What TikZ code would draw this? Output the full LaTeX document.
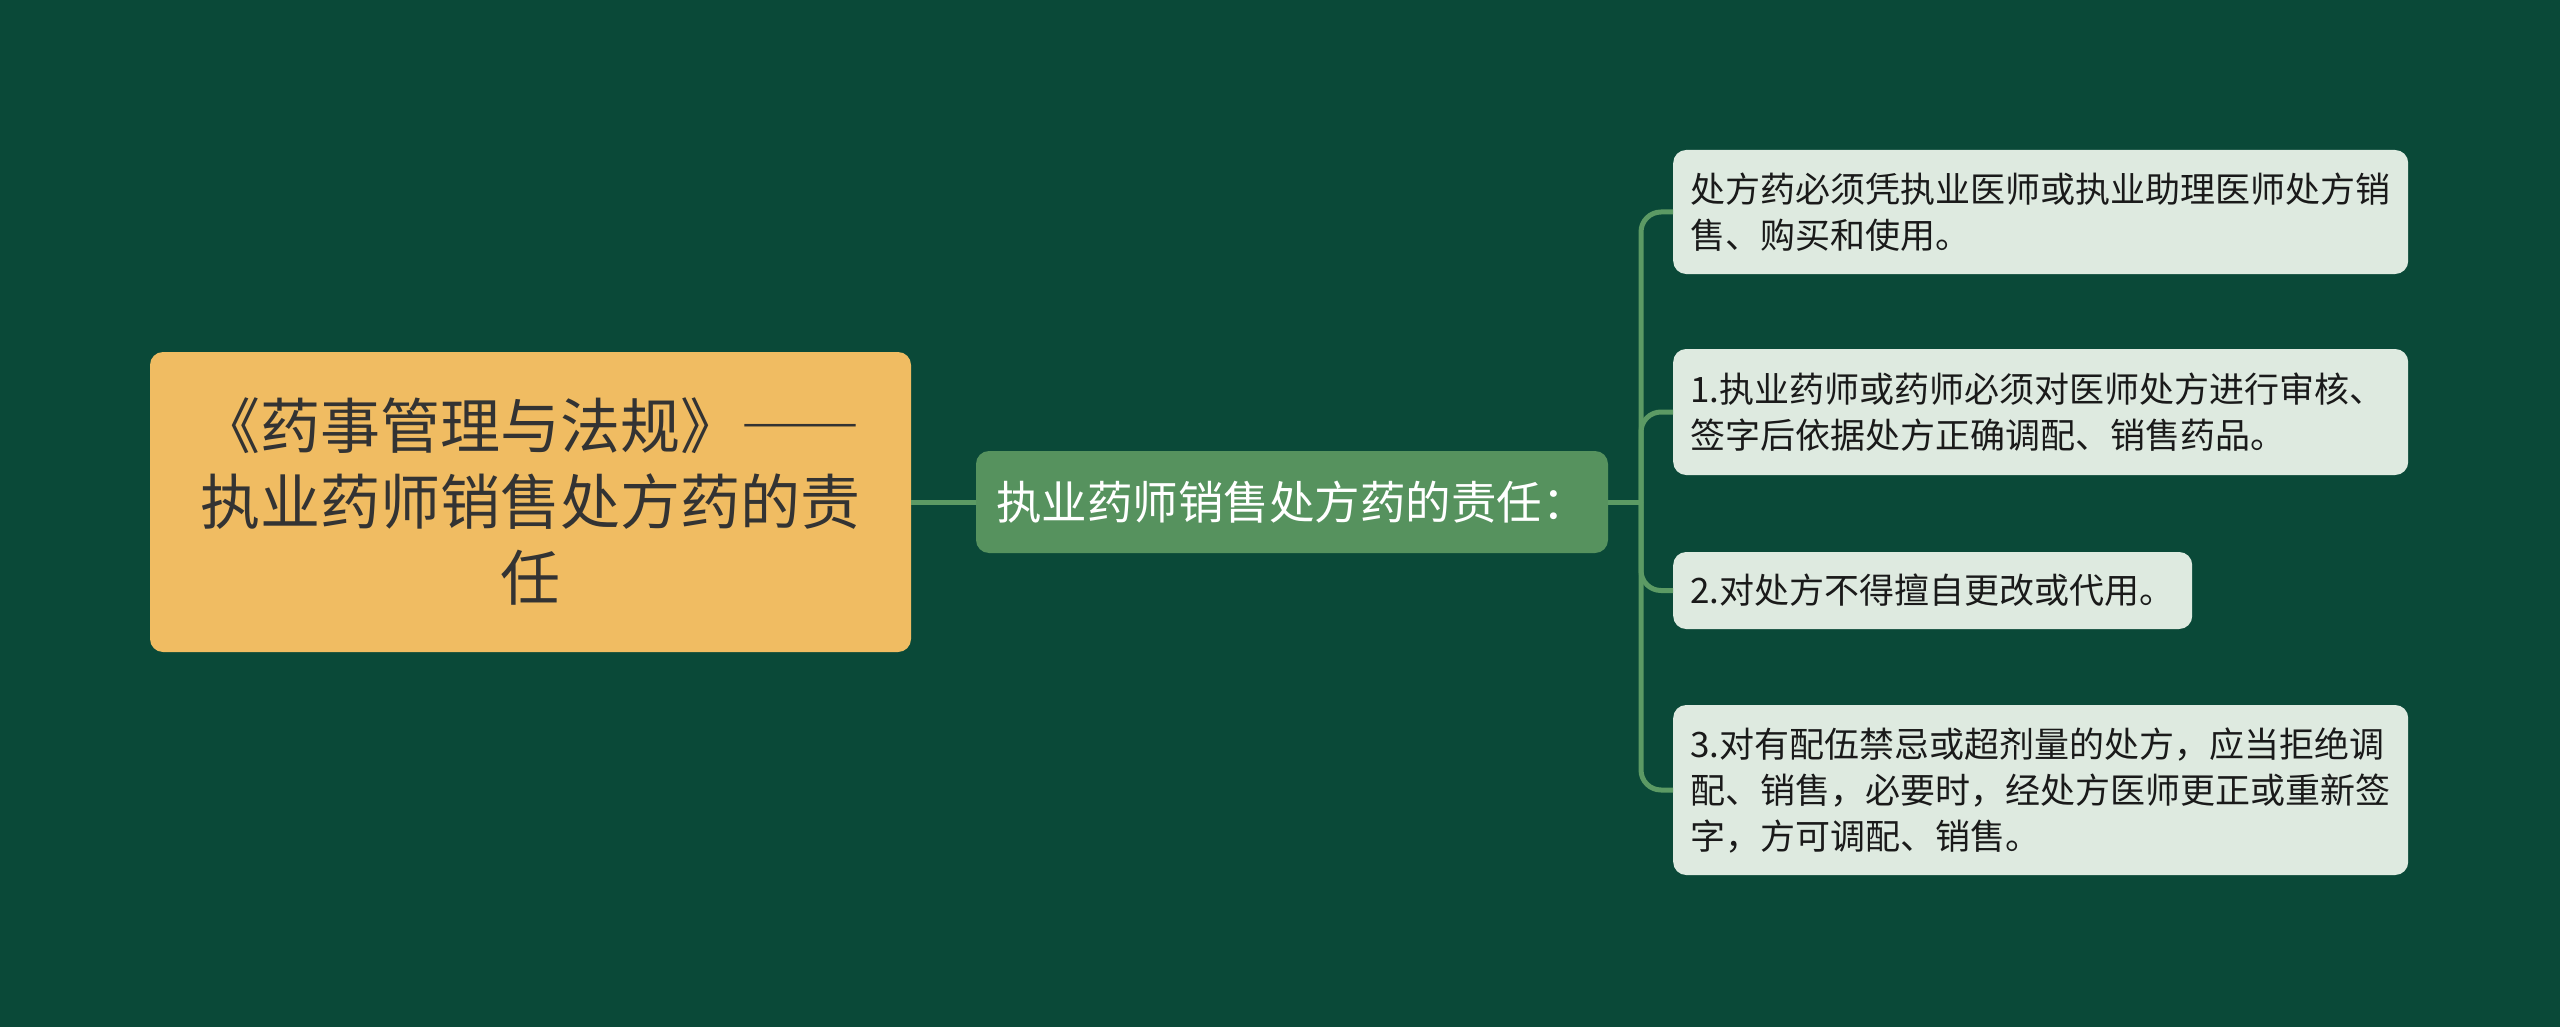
\documentclass[tikz,border=0pt]{standalone}
\usepackage{fontspec}
\setmainfont{Noto Sans CJK SC}
\definecolor{bgc}{HTML}{0A4938}
\definecolor{linec}{HTML}{5C9A64}
\definecolor{rootc}{HTML}{F0BC62}
\definecolor{midc}{HTML}{56925E}
\definecolor{leafc}{HTML}{DEEAE0}
\definecolor{roottext}{HTML}{333333}
\definecolor{leaftext}{HTML}{1A1A1A}
\tikzset{
  conn/.style={draw=linec, line width=5pt, rounded corners=20pt},
  rootbox/.style={fill=rootc, rounded corners=13pt, minimum width=761pt, minimum height=300pt,
    align=center, text=roottext, inner sep=0pt, font=\fontsize{60}{76}\selectfont},
  midbox/.style={fill=midc, rounded corners=13pt, minimum width=632pt, minimum height=102pt,
    text=white, inner sep=0pt, font=\fontsize{45.5}{52}\selectfont},
  leafbox/.style={fill=leafc, rounded corners=13pt, anchor=west, text width=#1, align=left,
    text=leaftext, inner xsep=17pt, inner ysep=0pt, font=\fontsize{35}{46}\selectfont}
}
\begin{document}
\begin{tikzpicture}[x=1pt,y=-1pt]
\fill[bgc] (0,0) rectangle (2560,1027);
\useasboundingbox (0,0) rectangle (2560,1027);
\node[rootbox] (root) at (530.5,502) {《药事管理与法规》{\addfontfeatures{RawFeature=+fwid}——}\\执业药师销售处方药的责\\任};
\node[midbox] (mid) at (1292,502) {执业药师销售处方药的责任：};
\node[leafbox=701pt, minimum height=124pt] (n1) at (1673,212) {处方药必须凭执业医师或执业助理医师处方销\\售、购买和使用。};
\node[leafbox=701pt, minimum height=126pt] (n2) at (1673,412) {1.执业药师或药师必须对医师处方进行审核、\\签字后依据处方正确调配、销售药品。};
\node[leafbox=485pt, minimum height=77pt] (n3) at (1673,590.5) {2.对处方不得擅自更改或代用。};
\node[leafbox=701pt, minimum height=170pt] (n4) at (1673,790) {3.对有配伍禁忌或超剂量的处方，应当拒绝调\\配、销售，必要时，经处方医师更正或重新签\\字，方可调配、销售。};
\coordinate (tr) at (1641,502);
\draw[conn] (root.east) -- (mid.west);
\draw[conn] (mid.east) -- (tr);
\draw[conn] (tr) |- (n1.west);
\draw[conn] (tr) |- (n2.west);
\draw[conn] (tr) |- (n3.west);
\draw[conn] (tr) |- (n4.west);
\end{tikzpicture}
\end{document}
